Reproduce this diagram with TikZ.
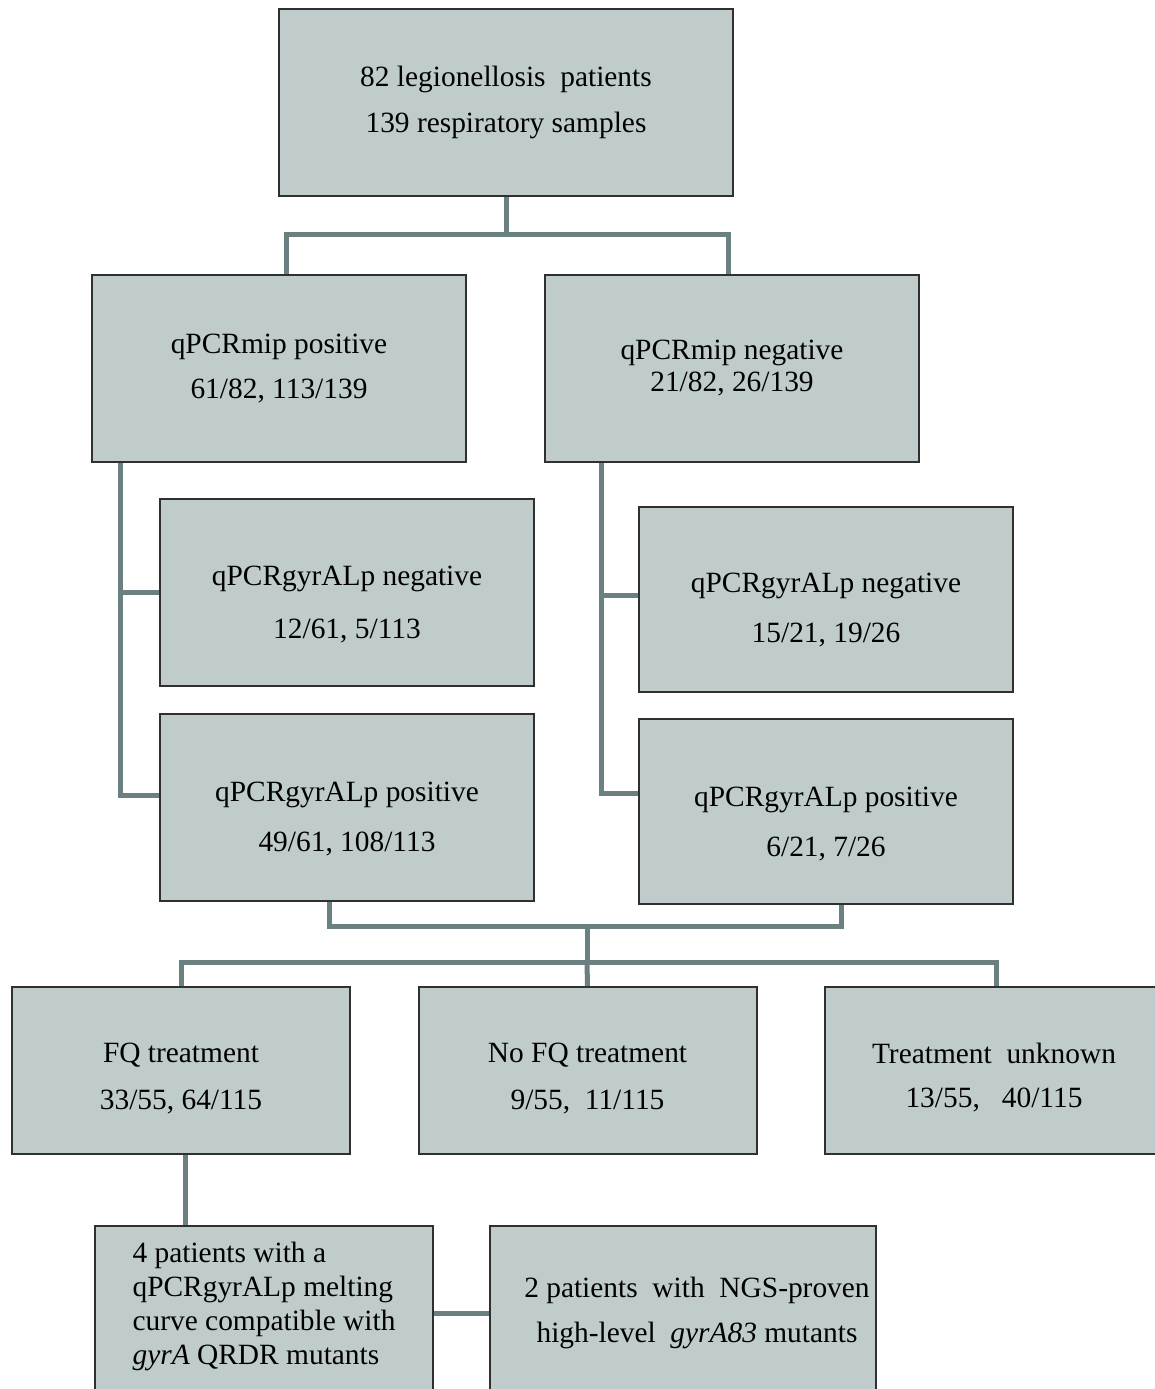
\documentclass[tikz,border=0pt]{standalone}
\usepackage{fontspec}
\setmainfont{Liberation Serif}

\definecolor{boxfill}{HTML}{BFCCCB}
\definecolor{linkgray}{HTML}{6B8080}
\definecolor{boxline}{HTML}{303030}

\newcommand*{\boxw}{187pt}
\newcommand*{\boxh}{93.5pt}
\newcommand*{\roww}{169pt}
\newcommand*{\rowh}{83.5pt}
\newcommand*{\padtop}[1]{\rule{0pt}{#1}}
\newcommand*{\padbot}[1]{\rule[-#1]{0pt}{0pt}}

\begin{document}
\begin{tikzpicture}
[
	x=0.5pt, y=-0.5pt,
	stage/.style={draw=boxline,line width=1pt,fill=boxfill,align=center,inner sep=0pt,
		minimum width=\boxw,minimum height=\boxh,font=\fontsize{14.7}{17}\selectfont},
	rowbox/.style={stage,minimum width=\roww,minimum height=\rowh},
	link/.style={draw=linkgray,line width=2.5pt}
]

	\useasboundingbox (0,0) rectangle (1155,1389);
	\clip (0,0) rectangle (1155,1389);

	% boxes
	\node[stage,minimum width=227pt] (top) at (506,102.5) {82 legionellosis\ \ patients\\[6pt] 139 respiratory samples};

	\node[stage] (mippos) at (279,368.5) {qPCRmip positive\\[5.5pt] 61/82,\ 113/139};
	\node[stage] (mipneg) at (732,368.5) {qPCRmip negative\\[-1pt] 21/82,\ 26/139};

	\node[stage] (gyrnegL) at (347,592.5) {\padtop{22pt}qPCRgyrALp negative\\[9.5pt] 12/61,\ 5/113};
	\node[stage] (gyrposL) at (347,807) {\padtop{22pt}qPCRgyrALp positive\\[8pt] 49/61,\ 108/113};
	\node[stage,minimum height=92.5pt] (gyrnegR) at (826,599.5) {\padtop{20pt}qPCRgyrALp negative\\[8pt] 15/21,\ 19/26};
	\node[stage,minimum height=92.5pt] (gyrposR) at (826,811.5) {\padtop{22pt}qPCRgyrALp positive\\[8pt] 6/21,\ 7/26};

	\node[rowbox] (fq) at (181,1070.5) {\padtop{18pt}FQ treatment\\[6.5pt] 33/55,\ 64/115};
	\node[rowbox] (nofq) at (587.5,1070.5) {\padtop{18pt}No FQ treatment\\[6.5pt] 9/55,\ \ 11/115};
	\node[rowbox] (unknown) at (994,1070.5) {\padtop{17pt}Treatment\ \ unknown\\[5pt] 13/55,\ \ \ 40/115};

	\node[rowbox,align=left,minimum height=87pt] (mut4) at (264,1313) {4 patients with a\\ qPCRgyrALp melting\\ curve compatible with\\ \textit{gyrA} QRDR mutants\padbot{10pt}};
	\node[rowbox,minimum width=193pt,minimum height=87pt] (ngs2) at (683,1313) {\hspace*{14pt}2 patients\ \ with\ \ NGS-proven\\[5.5pt] \hspace*{14pt}high-level\ \ \textit{gyrA83} mutants};

	% junctions
	\coordinate (split1) at (506,234);
	\coordinate (merge) at (587,926);
	\coordinate (split2) at (587,962);

	% links
	\draw[link] (top.south) -- (split1);
	\draw[link] ([xshift=3.5pt]mippos.north) |- (split1) -| ([xshift=-2pt]mipneg.north);

	\draw[link] ([xshift=14.5pt]mippos.south west) |- ([yshift=6pt]gyrposL.west);
	\draw[link] (gyrnegL.west) -- ++(-19.5pt,0);
	\draw[link] ([xshift=28.5pt]mipneg.south west) |- ([yshift=9pt]gyrposR.west);
	\draw[link] ([yshift=2pt]gyrnegR.west) -- ++(-18.5pt,0);

	\draw[link] ([xshift=-9pt]gyrposL.south) |- (merge) -| ([xshift=7.5pt]gyrposR.south);
	\draw[link] (merge) -- (split2);
	\draw[link] (fq.north) |- (split2) -| ([xshift=1pt]unknown.north);
	\draw[link] (split2) -- (nofq.north);

	\draw[link] ([xshift=2pt]fq.south) -- ([xshift=2pt]fq.south |- mut4.north);
	\draw[link] (mut4.east) -- (ngs2.west);

\end{tikzpicture}
\end{document}
